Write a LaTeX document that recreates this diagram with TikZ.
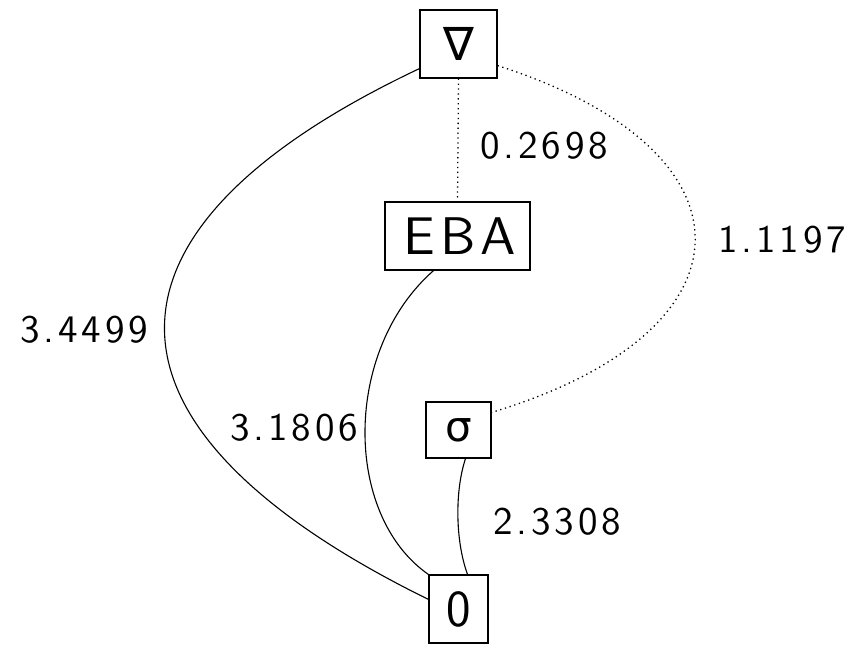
\documentclass[tikz,border=0pt]{standalone}
\usepackage{fontspec}
\newfontfamily\symf{DejaVu Sans}
\newfontfamily\labf{lmsans10-regular.otf}[LetterSpace=10]
\newfontfamily\boxf{lmsans10-regular.otf}[LetterSpace=9]
\begin{document}
\begin{tikzpicture}[x=1pt,y=-1pt,
  box/.style={draw, line width=1.2pt, inner sep=0pt, font=\fontsize{53}{58}\boxf},
  lab/.style={font=\fontsize{39}{44}\labf},
  edge/.style={line width=1.1pt},
  dotline/.style={line width=1.3pt, dash pattern=on 1.3pt off 3.6pt}]
\useasboundingbox (0,0) rectangle (853,646);
\node[box, minimum width=77pt, minimum height=68pt] (nabla) at (458.5,44) {\fontsize{46}{50}\symf ∇};
\node[box, minimum width=145pt, minimum height=68pt] (eba) at (457.5,236) {\hspace{4.5pt}EBA};
\node[box, minimum width=65pt, minimum height=56pt] (sigma) at (458.5,430) {\fontsize{42}{50}\symf σ};
\node[box, minimum width=59pt, minimum height=68pt] (zero) at (458.5,609) {\fontsize{52}{56}\sffamily 0};
\draw[dotline] (nabla.south) -- (eba.north);
\draw[dotline] ([yshift=13pt]nabla.south east) .. controls (762,150) and (762,331) .. ([yshift=-11pt]sigma.north east);
\draw[edge] ([yshift=10pt]nabla.south west) .. controls (78,230) and (78,427) .. ([yshift=-25pt]zero.north west);
\draw[edge] ([xshift=-24pt]eba.south) .. controls (343,350) and (343,515) .. (zero.north west);
\draw[edge] ([xshift=7pt]sigma.south) .. controls (455,490) and (455,540) .. ([xshift=9pt]zero.north);
\node[lab] (l1) at (544,146) {0.2698};
\node[lab] (l2) at (782,240) {1.1197};
\node[lab] (l3) at (84,330) {3.4499};
\node[lab] (l4) at (294,428) {3.1806};
\node[lab] (l5) at (557,522) {2.3308};
\end{tikzpicture}
\end{document}
